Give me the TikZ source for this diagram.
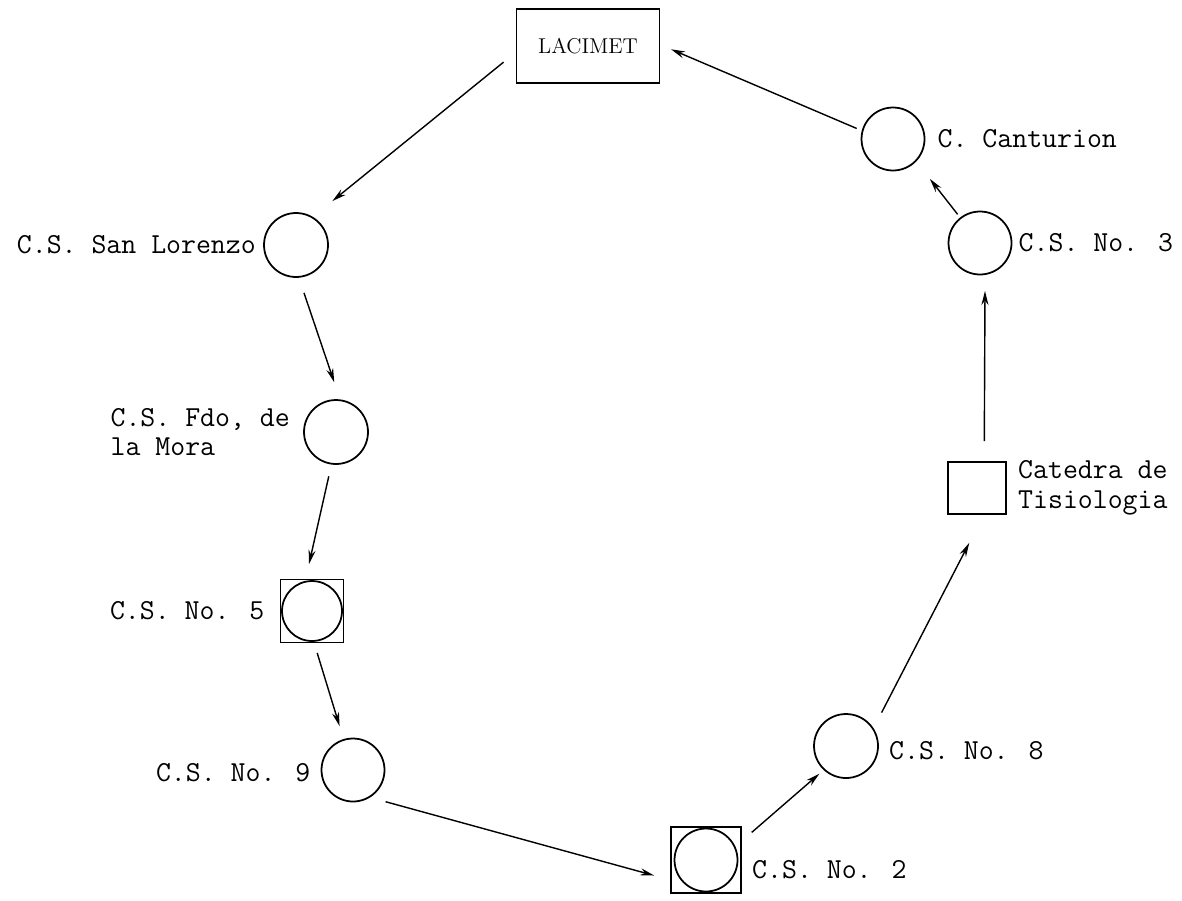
\documentclass[tikz,border=0pt]{standalone}
\usepackage{fontspec}
\usetikzlibrary{arrows.meta,positioning}
\begin{document}
\begin{tikzpicture}[x=0.02cm, y=-0.02cm,
  every node/.style={font=\fontsize{16.5}{17}\selectfont\ttfamily},
  site/.style={draw, circle, line width=1pt, minimum size=1.26cm, inner sep=0pt},
  post/.style={draw, rectangle, line width=1pt, inner sep=0pt},
  tag/.style={inner sep=0pt, align=left},
  flow/.style={-{Stealth[length=8pt,width=4pt]}, line width=0.8pt}]
\useasboundingbox (0,0) rectangle (1182,900);
\node[post, minimum width=2.86cm, minimum height=1.48cm] (lacimet) at (588,46) {\fontsize{12.2}{14}\selectfont\rmfamily LACIMET};
\node[site] (canturion) at (893,139) {};
\node[tag, right=0.24cm of canturion] (canturiontag) {C. Canturion};
\node[site] (cs3) at (980,243) {};
\node[tag, right=0.12cm of cs3] (cs3tag) {C.S. No. 3};
\node[post, minimum width=1.16cm, minimum height=1.04cm] (catedra) at (977,488) {};
\node[tag, right=0.22cm of catedra] (catedratag) {Catedra de\\Tisiologia};
\node[site, minimum size=1.28cm] (cs8) at (846,746) {};
\node[tag, right=0.2cm of cs8, yshift=-0.1cm] (cs8tag) {C.S. No. 8};
\node[post, minimum width=1.4cm, minimum height=1.32cm] (cs2) at (706,860) {};
\node[site] (cs2ring) at (cs2) {};
\node[tag, right=0.2cm of cs2, yshift=-0.2cm] (cs2tag) {C.S. No. 2};
\node[site] (cs9) at (353,770) {};
\node[tag, left=0.2cm of cs9, yshift=-0.06cm] (cs9tag) {C.S. No. 9};
\node[post, minimum size=1.26cm] (cs5) at (312,611) {};
\node[site, minimum size=1.2cm] (cs5ring) at (cs5) {};
\node[tag, left=0.3cm of cs5] (cs5tag) {C.S. No. 5};
\node[site, minimum size=1.28cm] (fdo) at (336,432) {};
\node[tag, left=0.26cm of fdo] (fdotag) {C.S. Fdo, de\\la Mora};
\node[site, minimum size=1.28cm] (slor) at (296,245) {};
\node[tag, left=0.14cm of slor] (slortag) {C.S. San Lorenzo};
\draw[flow, shorten <=0.31cm, shorten >=0.5cm] (lacimet.185) -- (slor.59);
\draw[flow, shorten <=0.32cm, shorten >=0.36cm] (slor.275) -- (fdo.83);
\draw[flow, shorten <=0.24cm, shorten >=0.3cm] (fdo.262) -- (cs5.101);
\draw[flow, shorten <=0.2cm, shorten >=0.27cm] (cs5.274) -- (cs9.107);
\draw[flow, shorten <=0.32cm, shorten >=0.33cm] (cs9.302) -- (cs2.209);
\draw[flow, shorten <=0.26cm, shorten >=0.11cm] (cs2.28) -- (cs8.227);
\draw[flow, shorten <=0.35cm, shorten >=0.63cm] (cs8.33) -- (catedra.284);
\draw[flow, shorten <=0.4cm, shorten >=0.32cm] (catedra.75) -- (cs3.279);
\draw[flow, shorten <=0.08cm, shorten >=0.44cm] (cs3.128) -- (canturion.316);
\draw[flow, shorten <=0.11cm, shorten >=0.23cm] (canturion.165) -- (lacimet.1);
\end{tikzpicture}
\end{document}
